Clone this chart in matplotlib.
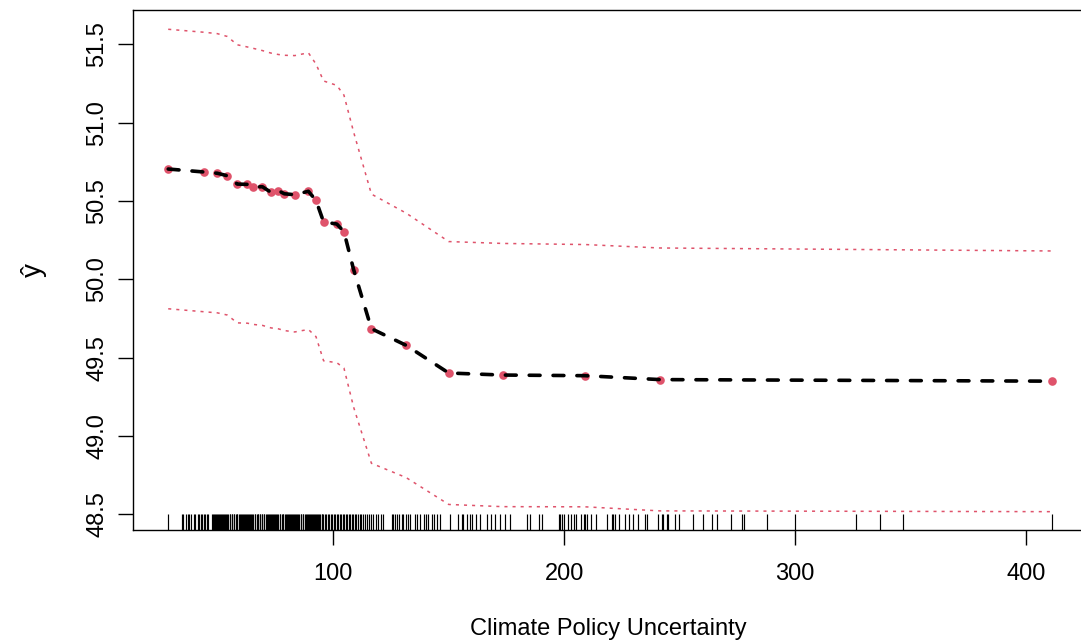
import matplotlib
matplotlib.use("Agg")
import matplotlib.pyplot as plt
import matplotlib.transforms as mtransforms

# ---- data ----
grid_x = [28.5, 44.0, 49.8, 54.1, 58.4, 62.8, 65.4, 69.3, 73.0, 76.2, 78.8, 83.3,
          89.2, 92.5, 95.8, 101.5, 104.6, 108.8, 116.5, 131.5, 150.0, 173.4,
          209.0, 241.5, 411.3]
yhat = [50.704, 50.685, 50.677, 50.661, 50.608, 50.606, 50.589, 50.591, 50.555,
        50.566, 50.546, 50.540, 50.562, 50.504, 50.366, 50.353, 50.305, 50.062,
        49.685, 49.579, 49.402, 49.389, 49.385, 49.360, 49.350]
upper = [51.596, 51.577, 51.568, 51.550, 51.497, 51.483, 51.474, 51.460, 51.444,
         51.435, 51.430, 51.428, 51.446, 51.374, 51.266, 51.238, 51.176, 50.940,
         50.544, 50.423, 50.241, 50.229, 50.222, 50.200, 50.181]
lower = [49.812, 49.793, 49.786, 49.772, 49.722, 49.720, 49.712, 49.706, 49.690,
         49.684, 49.673, 49.664, 49.680, 49.634, 49.480, 49.468, 49.434, 49.184,
         48.826, 48.735, 48.563, 48.549, 48.548, 48.522, 48.517]

rug_x = [
    28.5,
    34.3, 35.0, 36.4, 36.9, 37.6, 38.3, 39.5, 40.1, 41.3, 41.9, 42.7, 43.3, 44.1,
    44.6, 45.3, 45.9,
    47.3, 47.7, 48.3, 48.6, 49.2, 49.5, 50.1, 50.4, 51.0, 51.3, 51.9, 52.2, 52.8,
    53.1, 53.7, 54.0, 54.6, 55.1, 55.4, 56.0, 56.3, 56.9, 57.1, 57.8, 58.2, 58.5,
    59.1, 59.4, 60.0, 60.3, 60.9, 61.2, 61.8, 62.1, 62.7, 63.0, 63.6, 64.1, 64.4,
    65.0, 65.3, 65.9, 66.1, 66.8, 67.2, 67.5, 68.1, 68.4, 69.0, 69.3, 69.9, 70.2,
    70.8, 71.1, 71.7, 72.0, 72.6, 73.1, 73.4, 74.0, 74.3, 74.9, 75.2, 75.8, 76.1,
    76.7, 77.0, 77.6, 78.1, 78.4, 79.0, 79.3, 79.9, 80.2, 80.8, 81.1, 81.7, 82.0,
    82.6, 83.1, 83.4, 84.0, 84.3, 84.9, 85.2, 85.8, 86.1, 86.7, 87.0, 87.6, 88.1,
    88.4, 89.0, 89.3, 89.9, 90.2, 90.8, 91.1, 91.7, 92.0, 92.6, 93.1, 93.4, 94.0,
    94.3, 94.9, 95.2, 95.7,
    96.4, 97.0, 97.5, 98.3, 98.8, 99.6, 100.1, 100.9, 101.4, 102.2, 102.7, 103.5,
    104.0, 104.8, 105.3, 106.1, 106.6, 107.4, 107.9, 108.7, 109.3, 110.0, 110.6,
    111.4, 112.0, 112.8,
    113.6, 114.5, 115.3, 116.4, 117.2, 118.5, 119.3, 120.6, 121.5,
    125.4, 126.0, 126.9, 127.5, 128.3, 129.6, 130.2, 131.5, 132.4, 133.1,
    135.5, 136.4, 137.4,
    139.1, 140.3, 141.0, 142.6, 143.5, 144.8, 146.1,
    150.5,
    154.2, 155.6, 156.3, 157.9, 159.4, 160.2, 161.8, 163.4,
    166.5, 168.1, 170.0, 172.1, 174.5, 176.4,
    183.9, 185.1, 188.9, 190.2,
    197.6, 198.2, 198.9, 200.1, 201.8, 202.9, 204.2, 204.9, 207.1, 208.5, 209.1,
    209.7, 211.4, 213.6, 218.4, 220.5, 221.3, 222.0, 223.7, 226.3, 228.1, 229.7,
    232.1, 235.0, 235.7, 240.5, 242.2, 242.9, 244.4, 245.1, 248.0, 249.7,
    255.9, 260.0, 263.9, 266.3, 272.2, 276.9, 278.0, 287.7, 300.0,
    326.2, 336.8, 346.6, 411.1,
]

x_ticks = [100, 200, 300, 400]
y_ticks = [48.5, 49.0, 49.5, 50.0, 50.5, 51.0, 51.5]
y_tick_labels = ["48.5", "49.0", "49.5", "50.0", "50.5", "51.0", "51.5"]
x_label = "Climate Policy Uncertainty"
y_label = "ŷ"

# ---- styling ----
plt.rcParams["font.family"] = ["Liberation Sans", "DejaVu Sans"]
RED = "#DF536B"
FS = 17

fig = plt.figure(figsize=(10.81, 6.44), dpi=100)
W, H = 1081, 644
ax = fig.add_axes([133 / W, (H - 530) / H, (1083.7 - 133) / W, (530 - 10) / H])

ax.plot(grid_x, upper, color=RED, lw=1.1, linestyle=(0, (2.0, 3.3)),
        dash_capstyle="butt", zorder=2)
ax.plot(grid_x, lower, color=RED, lw=1.1, linestyle=(0, (2.0, 3.3)),
        dash_capstyle="butt", zorder=2)
ax.plot(grid_x, yhat, linestyle="none", marker="o", ms=6.2, color=RED,
        markeredgewidth=0, zorder=3)
ax.plot(grid_x, yhat, color="black", lw=2.6, linestyle=(0, (3.0, 3.6)),
        dash_capstyle="round", zorder=4)

trans = mtransforms.blended_transform_factory(ax.transData, ax.transAxes)
ax.vlines(rug_x, 0, 0.031, transform=trans, color="black", lw=0.85, zorder=1)

ax.set_xlim(13.25, 425.0)
ax.set_ylim(48.400, 51.719)

ax.set_xticks(x_ticks)
ax.set_xticklabels([str(v) for v in x_ticks])
ax.set_yticks(y_ticks)
ax.set_yticklabels(y_tick_labels, rotation=90, va="center")

for s in ax.spines.values():
    s.set_linewidth(1.0)
    s.set_color("black")

ax.tick_params(axis="both", length=10.8, width=1.0, labelsize=FS, color="black")
ax.tick_params(axis="x", pad=13)
ax.tick_params(axis="y", pad=7)

ax.set_xlabel(x_label, fontsize=FS, labelpad=24)
ax.set_ylabel(y_label, fontsize=FS + 3, labelpad=28)

fig.savefig("out.png", dpi=100)
